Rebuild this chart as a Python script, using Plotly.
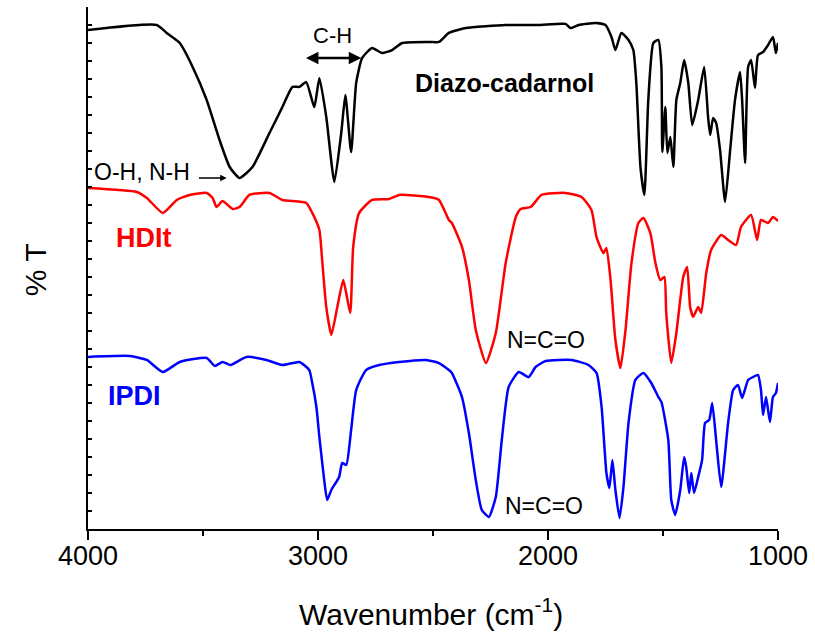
import plotly.graph_objects as go

# Wavenumbers (cm-1) and transmittance (arbitrary, offset units)
wn_diazo = [4000, 3701, 3658, 3601, 3545, 3484, 3428, 3384, 3341, 3285, 3211, 3155, 3111, 3081, 3051,
            3016, 2994, 2964, 2929, 2899, 2881, 2856, 2834, 2808, 2765, 2721, 2678, 2634, 2517, 2474,
            2431, 2357, 2184, 2041, 1924, 1902, 1867, 1793, 1750, 1724, 1707, 1681, 1650, 1629, 1616,
            1598, 1581, 1564, 1542, 1520, 1507, 1503, 1490, 1481, 1468, 1455, 1442, 1425, 1408, 1390,
            1373, 1347, 1321, 1304, 1295, 1282, 1269, 1252, 1230, 1208, 1187, 1165, 1156, 1143, 1130,
            1117, 1100, 1087, 1065, 1043, 1022, 1009, 1000]
t_diazo = [27.72, 28.0, 27.56, 27.0, 25.67, 23.83, 21.61, 20.11, 19.5, 20.11, 22.0, 23.44, 24.56, 24.56, 24.83,
           23.44, 25.06, 22.89, 19.28, 22.0, 24.11, 20.94, 24.78, 26.17, 26.72, 26.44, 26.61, 27.0, 27.06, 27.06,
           27.56, 27.83, 28.0, 28.0, 28.06, 27.83, 28.0, 28.11, 28.0, 27.33, 26.61, 27.56, 27.17, 26.61, 24.78,
           20.11, 18.56, 23.83, 27.0, 27.17, 25.67, 20.94, 23.44, 20.89, 21.78, 20.11, 23.83, 24.78, 26.06, 24.78,
           22.44, 23.83, 25.67, 22.89, 21.89, 22.83, 22.56, 21.06, 18.17, 21.06, 23.83, 25.39, 23.83, 20.33, 25.67,
           26.06, 24.5, 26.33, 26.5, 26.89, 27.33, 26.44, 27.0]

wn_hdit = [4000, 3788, 3744, 3675, 3614, 3558, 3484, 3458, 3441, 3415, 3371, 3341, 3298, 3211, 3155,
           3051, 3025, 2994, 2981, 2964, 2942, 2916, 2890, 2860, 2847, 2821, 2765, 2691, 2647, 2517,
           2474, 2431, 2418, 2374, 2344, 2314, 2270, 2227, 2184, 2140, 2119, 2075, 2028, 1924, 1854,
           1811, 1789, 1759, 1746, 1728, 1707, 1685, 1663, 1637, 1607, 1585, 1555, 1533, 1512, 1494,
           1486, 1464, 1442, 1412, 1395, 1382, 1369, 1347, 1334, 1312, 1291, 1247, 1217, 1182, 1161,
           1117, 1091, 1074, 1043, 1022, 1000]
t_hdit = [18.94, 18.72, 18.39, 17.56, 18.28, 18.56, 18.67, 18.39, 17.89, 18.22, 17.78, 17.89, 18.56, 18.67, 18.28,
          18.11, 17.56, 16.61, 14.78, 12.33, 10.78, 12.33, 13.83, 12.0, 15.67, 17.56, 18.28, 18.33, 18.56, 18.44,
          18.28, 17.17, 17.0, 15.67, 13.83, 11.06, 9.22, 10.89, 14.78, 17.33, 17.78, 17.89, 18.56, 18.67, 18.44,
          17.72, 16.22, 15.33, 15.61, 13.83, 10.5, 8.94, 11.06, 14.78, 17.0, 17.28, 16.44, 14.78, 13.83, 14.0,
          12.0, 9.22, 10.89, 14.0, 14.56, 12.33, 11.78, 12.33, 12.0, 14.22, 15.5, 16.33, 16.06, 15.78, 16.78,
          17.44, 16.06, 17.17, 17.0, 17.33, 17.11]

wn_ipdi = [4000, 3818, 3744, 3675, 3601, 3484, 3449, 3415, 3380, 3311, 3224, 3155, 3081, 3038, 3025,
           3007, 2994, 2973, 2960, 2942, 2908, 2895, 2877, 2856, 2834, 2791, 2734, 2647, 2530, 2474,
           2431, 2418, 2374, 2344, 2314, 2288, 2257, 2227, 2201, 2171, 2127, 2084, 2054, 2010, 1898,
           1824, 1789, 1767, 1746, 1733, 1720, 1707, 1689, 1672, 1650, 1620, 1585, 1551, 1520, 1507,
           1477, 1464, 1447, 1425, 1408, 1399, 1386, 1377, 1365, 1347, 1330, 1317, 1299, 1286, 1269,
           1247, 1217, 1195, 1174, 1156, 1130, 1109, 1087, 1074, 1065, 1052, 1035, 1022, 1009, 1000]
t_ipdi = [9.56, 9.61, 9.39, 8.72, 9.28, 9.5, 9.06, 9.28, 9.11, 9.56, 9.39, 9.11, 9.28, 8.83, 8.11,
          6.78, 5.11, 2.72, 1.61, 2.17, 2.89, 3.67, 3.56, 5.5, 7.72, 8.83, 9.11, 9.28, 9.39, 9.22,
          8.83, 8.67, 7.33, 5.33, 2.72, 1.06, 0.67, 1.78, 4.94, 7.89, 8.72, 8.44, 9.0, 9.33, 9.39,
          9.11, 8.67, 6.78, 3.11, 2.28, 3.83, 2.17, 0.61, 2.33, 5.89, 8.28, 8.67, 8.11, 7.33, 7.06,
          4.94, 1.61, 0.78, 2.17, 4.0, 3.44, 2.0, 3.11, 2.0, 2.89, 3.83, 5.89, 6.06, 7.0, 4.94,
          2.33, 5.89, 7.72, 8.0, 7.28, 8.28, 8.44, 8.56, 7.72, 6.33, 7.33, 5.94, 7.33, 7.56, 8.11]

x_ticks = [4000, 3000, 2000, 1000]

FONT = "Arial, Liberation Sans, Helvetica, sans-serif"

fig = go.Figure()
for wn, t, col, name in [(wn_diazo, t_diazo, "#000000", "Diazo-cadarnol"),
                         (wn_hdit, t_hdit, "#ff0000", "HDIt"),
                         (wn_ipdi, t_ipdi, "#0000ff", "IPDI")]:
    fig.add_trace(go.Scatter(x=wn, y=t, mode="lines", name=name, hoverinfo="skip",
                             line=dict(color=col, width=2.5, shape="spline", smoothing=0.5)))

ann = []
def txt(x, y, s, size, color="#000000", bold=False):
    ann.append(dict(x=x, y=y, xref="x", yref="y", text=(f"<b>{s}</b>" if bold else s),
                    xanchor="center", yanchor="middle",
                    showarrow=False, font=dict(family=FONT, size=size, color=color)))

txt(2188, 24.78, "Diazo-cadarnol", 25, bold=True)
txt(3757, 16.19, "HDIt", 27, "#ff0000", bold=True)
txt(3796, 7.39, "IPDI", 27, "#0000ff", bold=True)
txt(2010, 10.5, "N=C=O", 23)
txt(2019, 1.28, "N=C=O", 23)
txt(2938, 27.4, "C-H", 22)
txt(3766, 19.83, "O-H, N-H", 23)

# C-H double arrow
ann.append(dict(x=2812, y=26.17, ax=3059, ay=26.17, xref="x", yref="y", axref="x", ayref="y",
                text="", showarrow=True, arrowhead=2, startarrowhead=2, arrowside="end+start",
                arrowsize=1, startarrowsize=1, arrowwidth=2.5, arrowcolor="#000000"))
# O-H, N-H arrow
ann.append(dict(x=3397, y=19.5, ax=3524, ay=19.5, xref="x", yref="y", axref="x", ayref="y",
                text="", showarrow=True, arrowhead=2, arrowsize=1, arrowwidth=1.3, arrowcolor="#000000"))

# axis titles
ann.append(dict(x=0.497, y=-0.159, xref="paper", yref="paper", showarrow=False,
                xanchor="center", yanchor="middle",
                text="Wavenumber (cm<sup>-1</sup>)", font=dict(family=FONT, size=30, color="#000000")))
ann.append(dict(x=-0.0766, y=0.496, xref="paper", yref="paper", showarrow=False, textangle=-90,
                xanchor="center", yanchor="middle",
                text="% T", font=dict(family=FONT, size=30, color="#000000")))

fig.update_layout(
    width=815, height=633,
    margin=dict(l=88, r=35, t=7, b=104),
    paper_bgcolor="white", plot_bgcolor="white",
    showlegend=False, hovermode=False,
    annotations=ann,
    xaxis=dict(range=[4000, 1000], tickvals=x_ticks, ticktext=[str(v) for v in x_ticks],
               ticks="outside", ticklen=9, tickwidth=1.5, tickcolor="#000000",
               minor=dict(ticks="outside", ticklen=5, tickwidth=1.5, tickcolor="#000000", dtick=500, tick0=1000),
               showline=True, linecolor="#000000", linewidth=1.8, showgrid=False, zeroline=False,
               ticklabelstandoff=-7,
               tickfont=dict(family=FONT, size=27, color="#000000")),
    yaxis=dict(range=[0, 29], dtick=1, tick0=0, ticks="inside", ticklen=4, tickwidth=1.2,
               tickcolor="#000000", showticklabels=False,
               showline=True, linecolor="#000000", linewidth=1.8, showgrid=False, zeroline=False),
)

fig.write_html("out.html", config={"displayModeBar": False, "staticPlot": True},
               post_script="document.body.style.margin='0';document.body.style.overflow='hidden';")
